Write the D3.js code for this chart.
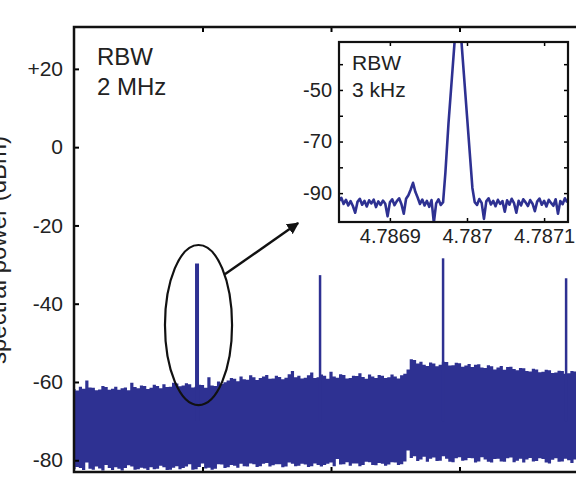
<!DOCTYPE html>
<html>
<head>
<meta charset="utf-8">
<script src="https://cdn.jsdelivr.net/npm/d3@7"></script>
<style>
body { margin: 0; background: #fff; }
text { font-family: "Liberation Sans", Arial, Helvetica, sans-serif; fill: #222; }
</style>
</head>
<body>
<svg id="chart" width="576" height="487"></svg>
<script>
// main trace: envelope of the noise band (GHz, dBm)
var noiseFreq = [0,0.125,0.25,0.375,0.5,0.625,0.75,0.875,1,1.125,1.25,1.375,1.5,1.625,1.75,1.875,
  2,2.125,2.25,2.375,2.5,2.625,2.75,2.875,3,3.125,3.25,3.375,3.5,3.625,3.75,3.875,
  4,4.125,4.25,4.375,4.5,4.625,4.75,4.875,5,5.125,5.25,5.375,5.5,5.625,5.75,5.875,
  6,6.125,6.25,6.375,6.5,6.625,6.75,6.875,7,7.125,7.25,7.375,7.5,7.625,7.75,7.875,
  8,8.125,8.25,8.375,8.5,8.625,8.75,8.875,9,9.125,9.25,9.375,9.5,9.625,9.75,9.875,
  10,10.125,10.25,10.375,10.5,10.625,10.75,10.875,11,11.125,11.25,11.375,11.5,11.625,11.75,11.875,
  12,12.125,12.25,12.375,12.5,12.625,12.75,12.875,13,13.125,13.25,13.375,13.5,13.625,13.75,13.875,
  14,14.125,14.25,14.375,14.5,14.625,14.75,14.875,15,15.125,15.25,15.375,15.5,15.625,15.75,15.875,
  16,16.125,16.25,16.375,16.5,16.625,16.75,16.875,17,17.125,17.25,17.375,17.5,17.625,17.75,17.875,
  18,18.125,18.25,18.375,18.5,18.625,18.75,18.875,19,19.125,19.25,19.375,19.5,19.625,19.75]
var noiseHigh = [-61.8,-62.2,-61.2,-61.7,-59.6,-61.4,-61.5,-62.1,-61.9,-61.0,-61.3,-62.0,-61.7,-61.2,-62.0,-61.6,
  -61.4,-62.1,-60.2,-61.3,-61.6,-60.9,-61.0,-61.8,-61.5,-60.7,-61.0,-61.6,-60.6,-61.3,-61.2,-60.2,
  -60.4,-61.1,-60.9,-60.3,-60.6,-61.4,-61.2,-60.7,-60.8,-61.5,-58.8,-60.9,-61.0,-59.9,-60.5,-60.1,
  -59.6,-59.0,-59.2,-59.8,-58.6,-59.3,-59.4,-58.3,-58.8,-59.5,-59.0,-58.6,-58.2,-59.2,-59.1,-58.4,
  -58.7,-59.3,-58.9,-58.0,-57.2,-58.8,-58.4,-59.1,-58.9,-58.3,-57.6,-59.0,-58.8,-58.1,-58.4,-59.2,
  -57.4,-58.6,-58.9,-58.0,-58.2,-59.1,-59.0,-58.4,-58.5,-57.8,-58.7,-59.2,-58.1,-58.6,-59.0,-58.2,
  -58.4,-59.0,-58.8,-58.1,-58.6,-59.1,-58.3,-57.9,-56.8,-54.2,-54.4,-55.3,-54.8,-55.6,-55.9,-55.0,
  -55.3,-56.0,-55.6,-54.8,-54.9,-55.8,-55.7,-55.1,-55.2,-56.1,-55.8,-55.4,-56.2,-55.6,-55.5,-56.3,
  -56.4,-55.7,-56.0,-56.8,-56.3,-55.9,-56.9,-56.2,-56.1,-56.7,-57.0,-56.4,-56.5,-57.2,-57.3,-56.6,
  -56.8,-57.5,-57.4,-56.9,-57.0,-57.7,-57.6,-57.1,-57.2,-57.9,-57.8,-57.2,-57.3,-57.8,-57.5]
var noiseLow = [-82.3,-81.7,-82.0,-82.5,-80.6,-82.2,-82.4,-81.6,-82.1,-82.6,-81.2,-82.0,-82.5,-81.8,-82.2,-82.6,
  -82.0,-81.3,-81.6,-82.4,-82.3,-81.9,-82.1,-82.5,-81.8,-82.3,-82.2,-81.4,-81.8,-82.5,-82.4,-81.9,
  -81.5,-82.3,-82.0,-81.6,-81.0,-82.4,-82.3,-81.7,-80.8,-82.1,-81.9,-82.4,-82.2,-81.0,-81.1,-82.0,
  -81.8,-81.2,-81.4,-81.9,-80.9,-81.5,-81.6,-80.8,-81.0,-81.7,-81.5,-80.9,-80.7,-81.6,-81.3,-81.0,
  -81.0,-81.8,-81.6,-80.6,-80.9,-81.5,-81.4,-80.9,-81.1,-81.7,-81.5,-80.8,-81.2,-81.6,-81.2,-80.9,
  -80.6,-81.5,-79.7,-81.1,-81.0,-80.5,-81.4,-80.8,-80.8,-81.5,-81.2,-80.4,-80.5,-81.2,-81.3,-80.7,
  -80.9,-81.4,-81.1,-80.5,-80.6,-81.2,-81.0,-80.3,-77.5,-79.4,-79.0,-80.2,-79.8,-79.1,-80.4,-79.6,
  -79.3,-80.2,-80.1,-79.0,-79.6,-80.4,-80.5,-79.5,-79.2,-80.1,-80.0,-79.4,-79.5,-80.6,-80.3,-79.2,
  -79.8,-80.4,-80.6,-79.7,-79.6,-80.3,-80.4,-79.5,-79.3,-80.5,-80.1,-79.6,-80.6,-79.8,-79.4,-80.3,
  -80.2,-79.5,-79.7,-80.6,-80.8,-79.9,-79.5,-80.4,-80.3,-79.6,-80.0,-80.7,-79.8,-79.4,-80.1]

// harmonic lines
var peakFreq = [4.787, 9.574, 14.361, 19.148]
var peakTop = [-29.7, -32.7, -28.4, -33.5]

var mainYTicks = [-80, -60, -40, -20, 0, 20]
var mainYLabels = ["-80", "-60", "-40", "-20", "0", "+20"]
var mainXTicks = [5, 10, 15]

// inset: first line at 3 kHz RBW, offset from 4.787 GHz in kHz
var insetKHz = [-166,-163,-160,-157,-154,-151,-148,-145,-142,-139,-136,-133,-130,-127,-124,-121,
  -118,-115,-112,-109,-106,-103,-100,-97,-94,-91,-88,-85,-82,-79,-76,-73,-70,-67,-64,-61,
  -58,-55,-52,-49,-46,-43,-40,-37,-34,-31,
  -28,-24,-20,-16,-12,-8,-4,0,4,7,
  10,13,16,19,22,25,28,31,34,37,40,43,46,49,52,55,58,61,64,67,70,73,76,79,82,85,88,91,94,97,
  100,103,106,109,112,115,118,121,124,127,130]
var insetDbm = [-93.0,-91.8,-94.2,-92.6,-94.8,-93.1,-95.0,-97.6,-93.4,-92.2,-94.5,-93.0,-95.2,-92.8,-94.0,-92.5,
  -95.4,-93.2,-94.6,-92.9,-94.1,-99.0,-93.6,-92.4,-94.7,-93.1,-92.0,-94.3,-98.0,-92.2,-90.8,-88.6,-86.0,-89.5,-91.7,-94.2,
  -92.5,-94.8,-93.0,-95.3,-92.7,-101.5,-94.0,-92.4,-94.6,-93.5,
  -82,-63,-47,-31,-15,-28,-44,-60,-76,-88,
  -93.5,-94.6,-92.3,-93.8,-100.0,-93.2,-92.0,-94.4,-93.0,-95.1,-92.6,-94.2,-93.1,-97.2,-92.8,-94.5,-92.2,-93.9,-97.6,-93.0,
  -94.8,-92.4,-93.6,-95.0,-92.7,-94.1,-97.0,-93.3,-92.1,-94.5,-93.0,-95.2,-92.6,-93.8,-94.9,-92.4,-98.0,-93.1,-94.3,-92.0,-93.6]

var insetYTicks = [-90, -80, -70, -60, -50, -40]
var insetYLabels = {"-90": "-90", "-70": "-70", "-50": "-50"}
var insetXTicks = [-100, 0, 100]
var insetXLabels = ["4.7869", "4.787", "4.7871"]

var blue = "#2e3192"
var svg = d3.select("#chart")

// main plot area (right edge runs past the window)
var mLeft = 74, mTop = 27, mRight = 588, mBottom = 472
var x = d3.scaleLinear().domain([0, 20]).range([mLeft, mRight])
var y = d3.scaleLinear().domain([-83, 30.7]).range([mBottom, mTop])

svg.append("clipPath").attr("id", "mainclip")
  .append("rect").attr("x", mLeft).attr("y", mTop).attr("width", mRight - mLeft).attr("height", mBottom - mTop)

var plot = svg.append("g").attr("clip-path", "url(#mainclip)")

var band = d3.area()
  .curve(d3.curveStep)
  .x(function(d, i) { return x(noiseFreq[i]) })
  .y0(function(d, i) { return y(noiseLow[i]) })
  .y1(function(d, i) { return y(noiseHigh[i]) })

plot.append("path")
  .datum(noiseFreq)
  .attr("fill", blue)
  .attr("d", band)

plot.selectAll("line.peak")
  .data(peakFreq)
  .enter().append("line")
  .attr("class", "peak")
  .attr("x1", function(d) { return x(d) })
  .attr("x2", function(d) { return x(d) })
  .attr("y1", y(-70))
  .attr("y2", function(d, i) { return y(peakTop[i]) })
  .attr("stroke", blue)
  .attr("stroke-width", function(d, i) { return i == 0 ? 4 : 2.5 })

// axes, ticks pointing inward
var yAxis = svg.append("g")
  .attr("transform", "translate(" + mLeft + ",0)")
  .call(d3.axisLeft(y).tickValues(mainYTicks).tickSize(-5).tickPadding(11)
        .tickFormat(function(d, i) { return mainYLabels[i] }))
yAxis.select(".domain").remove()
yAxis.selectAll("text").style("font-size", "21px").style("font-family", null)

var xTop = svg.append("g").attr("transform", "translate(0," + mTop + ")")
  .call(d3.axisTop(x).tickValues(mainXTicks).tickSize(-5).tickFormat(""))
var xBot = svg.append("g").attr("transform", "translate(0," + mBottom + ")")
  .call(d3.axisBottom(x).tickValues(mainXTicks).tickSize(-5).tickFormat(""))
xTop.select(".domain").remove()
xBot.select(".domain").remove()
svg.selectAll("g.tick line").attr("stroke-width", 2)

svg.append("rect")
  .attr("x", mLeft).attr("y", mTop)
  .attr("width", mRight - mLeft).attr("height", mBottom - mTop)
  .attr("fill", "none").attr("stroke", "#111").attr("stroke-width", 2.5)

svg.append("text")
  .attr("transform", "translate(6,250) rotate(-90)")
  .attr("text-anchor", "middle")
  .style("font-size", "24px")
  .text("spectral power (dBm)")

svg.append("text").attr("x", 97).attr("y", 65).style("font-size", "24px").text("RBW")
svg.append("text").attr("x", 97).attr("y", 95).style("font-size", "24px").text("2 MHz")

// ellipse round the first line and arrow to the inset
svg.append("ellipse")
  .attr("cx", (x(3.54) + x(6.15)) / 2)
  .attr("cy", (y(-25) + y(-65.9)) / 2)
  .attr("rx", (x(6.15) - x(3.54)) / 2)
  .attr("ry", (y(-65.9) - y(-25)) / 2)
  .attr("fill", "none").attr("stroke", "#111").attr("stroke-width", 2.2)

svg.append("defs").append("marker")
  .attr("id", "head")
  .attr("viewBox", "0 0 10 10")
  .attr("refX", 9).attr("refY", 5)
  .attr("markerWidth", 5).attr("markerHeight", 5)
  .attr("markerUnits", "strokeWidth")
  .attr("orient", "auto")
  .append("path").attr("d", "M0,0L10,5L0,10z").attr("fill", "#111")

svg.append("line")
  .attr("x1", x(5.87)).attr("y1", y(-32.5))
  .attr("x2", x(8.72)).attr("y2", y(-19.4))
  .attr("stroke", "#111").attr("stroke-width", 2.4)
  .attr("marker-end", "url(#head)")

// inset
var il = 339, it = 42, ir = 568, ib = 222
var ix = d3.scaleLinear().domain([-166, 131]).range([il, ir])
var iy = d3.scaleLinear().domain([-101.2, -31.4]).range([ib, it])

svg.append("rect")
  .attr("x", il).attr("y", it).attr("width", ir - il).attr("height", ib - it)
  .attr("fill", "#fff")

svg.append("clipPath").attr("id", "insetclip")
  .append("rect").attr("x", il).attr("y", it).attr("width", ir - il).attr("height", ib - it)

var trace = d3.line()
  .x(function(d, i) { return ix(insetKHz[i]) })
  .y(function(d, i) { return iy(insetDbm[i]) })

svg.append("g").attr("clip-path", "url(#insetclip)")
  .append("path")
  .datum(insetKHz)
  .attr("fill", "none")
  .attr("stroke", blue)
  .attr("stroke-width", 2.6)
  .attr("stroke-linejoin", "round")
  .attr("d", trace)

var iyl = svg.append("g").attr("transform", "translate(" + il + ",0)")
  .call(d3.axisLeft(iy).tickValues(insetYTicks).tickSize(-4).tickPadding(7)
        .tickFormat(function(d) { return insetYLabels[d] || "" }))
var iyr = svg.append("g").attr("transform", "translate(" + ir + ",0)")
  .call(d3.axisRight(iy).tickValues(insetYTicks).tickSize(-4).tickFormat(""))
var ixb = svg.append("g").attr("transform", "translate(0," + ib + ")")
  .call(d3.axisBottom(ix).tickValues(insetXTicks).tickSize(-4).tickPadding(7)
        .tickFormat(function(d, i) { return insetXLabels[i] }))
var ixt = svg.append("g").attr("transform", "translate(0," + it + ")")
  .call(d3.axisTop(ix).tickValues(insetXTicks).tickSize(-4).tickFormat(""))
;[iyl, iyr, ixb, ixt].forEach(function(a) {
  a.select(".domain").remove()
  a.selectAll("line").attr("stroke-width", 1.5)
  a.selectAll("text").style("font-size", "20px").style("font-family", null)
})

svg.append("rect")
  .attr("x", il).attr("y", it).attr("width", ir - il).attr("height", ib - it)
  .attr("fill", "none").attr("stroke", "#111").attr("stroke-width", 2.2)

svg.append("text").attr("x", 352).attr("y", 70).style("font-size", "21px").text("RBW")
svg.append("text").attr("x", 352).attr("y", 97).style("font-size", "21px").text("3 kHz")
</script>
</body>
</html>
